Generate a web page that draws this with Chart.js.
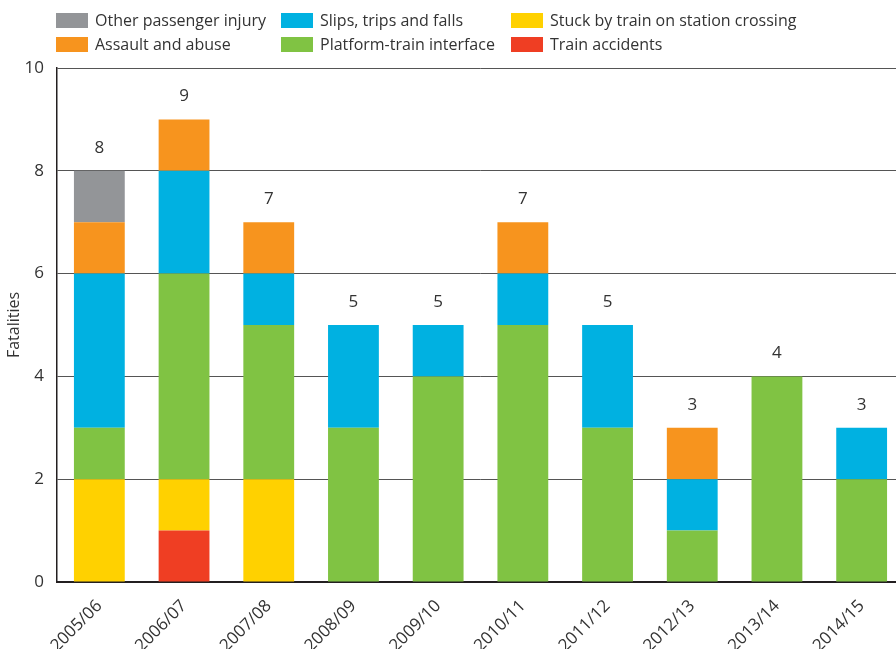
<!DOCTYPE html>
<html>
<head>
<meta charset="utf-8">
<script src="https://cdn.jsdelivr.net/npm/chart.js@4"></script>
<style>
  html, body { margin: 0; padding: 0; background: #fff; overflow: hidden; }
  #wrap { position: relative; width: 904px; height: 649px; }
</style>
</head>
<body>
<div id="wrap"><canvas id="chart" width="904" height="649"></canvas></div>
<script>
const years = ["2005/06", "2006/07", "2007/08", "2008/09", "2009/10", "2010/11", "2011/12", "2012/13", "2013/14", "2014/15"];

// stacked bottom to top
const trainAccidents = [0, 1, 0, 0, 0, 0, 0, 0, 0, 0];
const stuckByTrain   = [2, 1, 2, 0, 0, 0, 0, 0, 0, 0];
const platformTrain  = [1, 4, 3, 3, 4, 5, 3, 1, 4, 2];
const slipsTrips     = [3, 2, 1, 2, 1, 1, 2, 1, 0, 1];
const assaultAbuse   = [1, 1, 1, 0, 0, 1, 0, 1, 0, 0];
const otherInjury    = [1, 0, 0, 0, 0, 0, 0, 0, 0, 0];

const yTicks = [0, 2, 4, 6, 8, 10];

const textColor = "#333333";
const fontFamily = "'Open Sans', sans-serif";

const datasets = [
  { label: "Train accidents", data: trainAccidents, backgroundColor: "#EF3E23" },
  { label: "Stuck by train on station crossing", data: stuckByTrain, backgroundColor: "#FFD100" },
  { label: "Platform-train interface", data: platformTrain, backgroundColor: "#80C343" },
  { label: "Slips, trips and falls", data: slipsTrips, backgroundColor: "#00B1E1" },
  { label: "Assault and abuse", data: assaultAbuse, backgroundColor: "#F7941E" },
  { label: "Other passenger injury", data: otherInjury, backgroundColor: "#939598" },
];

// legend laid out in columns of two, like the original
const legendColumns = [
  ["Other passenger injury", "Assault and abuse"],
  ["Slips, trips and falls", "Platform-train interface"],
  ["Stuck by train on station crossing", "Train accidents"],
];

const gridLegend = {
  id: "gridLegend",
  afterDraw(chart) {
    const ctx = chart.ctx;
    const colX = [56, 281, 511];
    const rowY = [13, 37];
    ctx.save();
    ctx.font = "16px " + fontFamily;
    ctx.textBaseline = "middle";
    legendColumns.forEach((col, c) => {
      col.forEach((label, r) => {
        const ds = chart.data.datasets.find((d) => d.label === label);
        ctx.fillStyle = ds.backgroundColor;
        ctx.fillRect(colX[c], rowY[r], 32, 15);
        ctx.fillStyle = textColor;
        ctx.fillText(label, colX[c] + 39, rowY[r] + 8);
      });
    });
    ctx.restore();
  },
};

const totalLabels = {
  id: "totalLabels",
  afterDatasetsDraw(chart) {
    const ctx = chart.ctx;
    const xScale = chart.scales.x;
    const yScale = chart.scales.y;
    ctx.save();
    ctx.font = "17px " + fontFamily;
    ctx.fillStyle = textColor;
    ctx.textAlign = "center";
    ctx.textBaseline = "middle";
    years.forEach((y, i) => {
      const total = chart.data.datasets.reduce((s, d) => s + d.data[i], 0);
      ctx.fillText(String(total), xScale.getPixelForValue(i), yScale.getPixelForValue(total) - 23);
    });
    ctx.restore();
  },
};

new Chart(document.getElementById("chart"), {
  type: "bar",
  data: { labels: years, datasets: datasets },
  options: {
    responsive: false,
    animation: false,
    layout: { padding: { top: 68, right: 0, left: 0, bottom: 0 } },
    plugins: {
      legend: { display: false },
      tooltip: { enabled: false },
    },
    datasets: {
      bar: { barPercentage: 0.6, categoryPercentage: 1.0 },
    },
    scales: {
      x: {
        stacked: true,
        grid: { display: false },
        border: { color: "#231F20", width: 2 },
        ticks: {
          color: textColor,
          font: { family: fontFamily, size: 17 },
          minRotation: 45,
          maxRotation: 45,
          padding: 6,
        },
        afterFit(scale) { scale.height = 67; },
      },
      y: {
        stacked: true,
        min: 0,
        max: 10,
        afterBuildTicks(scale) { scale.ticks = yTicks.map((v) => ({ value: v })); },
        grid: { color: "#555555", lineWidth: 1, drawTicks: false },
        border: { color: "#231F20", width: 1.5 },
        ticks: {
          color: textColor,
          font: { family: fontFamily, size: 17 },
          padding: 13,
        },
        title: {
          display: true,
          text: "Fatalities",
          color: textColor,
          font: { family: fontFamily, size: 16 },
          padding: { top: 5, bottom: 0 },
        },
        afterFit(scale) { scale.width = 57; },
      },
    },
  },
  plugins: [gridLegend, totalLabels],
});
</script>
</body>
</html>
